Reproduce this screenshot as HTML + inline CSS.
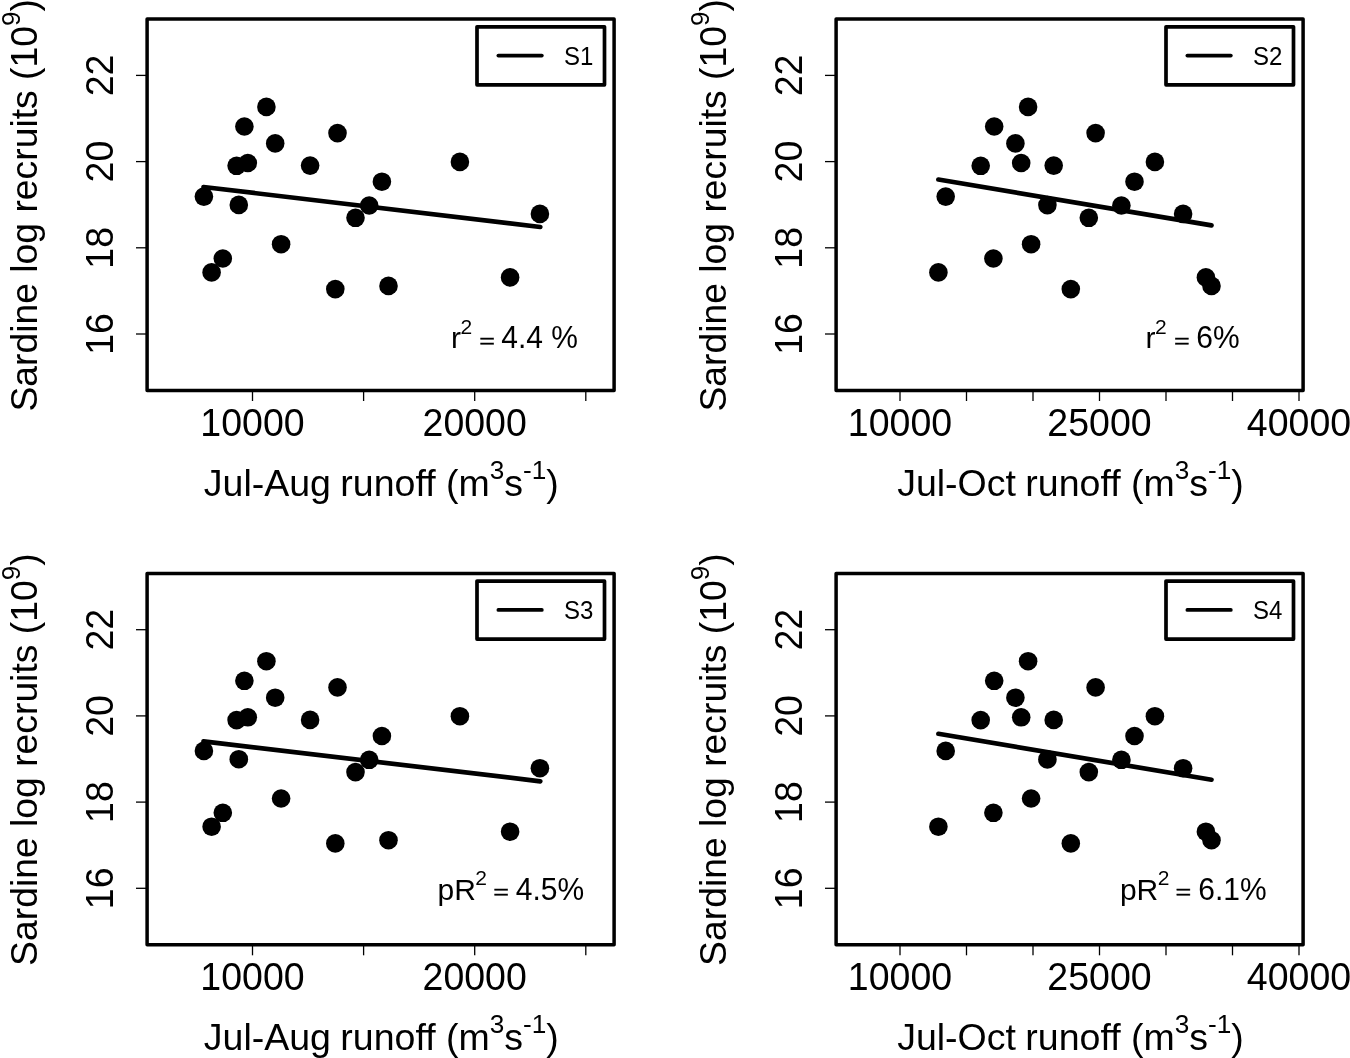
<!DOCTYPE html>
<html><head><meta charset="utf-8"><title>Sardine recruits vs runoff</title>
<style>html,body{margin:0;padding:0;background:#fff;overflow:hidden}svg{display:block}text{font-family:"Liberation Sans",Arial,sans-serif;fill:#000;stroke:none}text.e{stroke:#000;stroke-width:0.5px}</style>
</head><body>
<svg width="1350" height="1058" viewBox="0 0 1350 1058">
<rect width="1350" height="1058" fill="#fff"/>
<g transform="translate(0,0)">
<rect x="147.1" y="19.1" width="467" height="371.4" fill="none" stroke="#000" stroke-width="3.5" stroke-linejoin="round"/>
<line x1="136" y1="75.4" x2="146" y2="75.4" stroke="#000" stroke-width="1.3"/>
<text transform="translate(113.2,75.4) rotate(-90) scale(1,1.04)" text-anchor="middle" font-size="37.5">22</text>
<line x1="136" y1="161.6" x2="146" y2="161.6" stroke="#000" stroke-width="1.3"/>
<text transform="translate(113.2,161.6) rotate(-90) scale(1,1.04)" text-anchor="middle" font-size="37.5">20</text>
<line x1="136" y1="247.8" x2="146" y2="247.8" stroke="#000" stroke-width="1.3"/>
<text transform="translate(113.2,247.8) rotate(-90) scale(1,1.04)" text-anchor="middle" font-size="37.5">18</text>
<line x1="136" y1="334.0" x2="146" y2="334.0" stroke="#000" stroke-width="1.3"/>
<text transform="translate(113.2,334.0) rotate(-90) scale(1,1.04)" text-anchor="middle" font-size="37.5">16</text>
<line x1="252.5" y1="391" x2="252.5" y2="401" stroke="#000" stroke-width="1.3"/>
<line x1="363.6" y1="391" x2="363.6" y2="401" stroke="#000" stroke-width="1.3"/>
<line x1="474.7" y1="391" x2="474.7" y2="401" stroke="#000" stroke-width="1.3"/>
<line x1="585.8" y1="391" x2="585.8" y2="401" stroke="#000" stroke-width="1.3"/>
<text transform="translate(252.5,436.0) scale(1,1.04)" text-anchor="middle" font-size="37.5">10000</text>
<text transform="translate(474.7,436.0) scale(1,1.04)" text-anchor="middle" font-size="37.5">20000</text>
<text x="203.8" y="495.9" font-size="37.5">Jul-Aug<tspan dx="-1"> runoff (m</tspan><tspan font-size="26.2" dy="-16.8">3</tspan><tspan dy="16.8">s</tspan><tspan font-size="26.2" dy="-16.8">-1</tspan><tspan dy="16.8">)</tspan></text>
<text transform="translate(37.3,411.6) rotate(-90)" font-size="37.31">Sardine log recruits (10<tspan font-size="26.2" dy="-17.2">9</tspan><tspan dy="17.2">)</tspan></text>
<circle cx="266.4" cy="106.9" r="9.3"/>
<circle cx="244.4" cy="126.5" r="9.3"/>
<circle cx="275.2" cy="143.4" r="9.3"/>
<circle cx="337.5" cy="133.1" r="9.3"/>
<circle cx="236.6" cy="165.8" r="9.3"/>
<circle cx="247.8" cy="163.0" r="9.3"/>
<circle cx="310.1" cy="165.6" r="9.3"/>
<circle cx="381.9" cy="181.7" r="9.3"/>
<circle cx="203.9" cy="196.6" r="9.3"/>
<circle cx="238.8" cy="204.9" r="9.3"/>
<circle cx="369.2" cy="205.5" r="9.3"/>
<circle cx="355.5" cy="217.8" r="9.3"/>
<circle cx="281.1" cy="244.2" r="9.3"/>
<circle cx="222.8" cy="258.5" r="9.3"/>
<circle cx="211.6" cy="272.4" r="9.3"/>
<circle cx="335.3" cy="289.1" r="9.3"/>
<circle cx="388.5" cy="285.9" r="9.3"/>
<circle cx="459.9" cy="161.9" r="9.3"/>
<circle cx="539.9" cy="213.9" r="9.3"/>
<circle cx="510.1" cy="277.4" r="9.3"/>
<line x1="203.5" y1="187.0" x2="540.3" y2="227.0" stroke="#000" stroke-width="4.7" stroke-linecap="round"/>
<rect x="477" y="26.8" width="127.5" height="58" fill="#fff" stroke="#000" stroke-width="3.7" stroke-linejoin="round"/>
<line x1="498.4" y1="55.6" x2="541.8" y2="55.6" stroke="#000" stroke-width="3.8" stroke-linecap="round"/>
<text class="a" transform="translate(564,64.5) scale(1,1.04)" font-size="24.0">S1</text>
<text class="a" x="451.0" y="348.4" font-size="30.0">r<tspan font-size="21.0" dx="-0.5" dy="-14.6">2</tspan></text>
<text class="e" transform="translate(479.3,347.0) scale(0.9,0.6)" font-size="30.0">=</text>
<text class="a" transform="translate(501.3,348.4) scale(1,1.04)" font-size="30.0">4.4 %</text>
</g>
<g transform="translate(689.0,0)">
<rect x="147.1" y="19.1" width="467" height="371.4" fill="none" stroke="#000" stroke-width="3.5" stroke-linejoin="round"/>
<line x1="136" y1="75.4" x2="146" y2="75.4" stroke="#000" stroke-width="1.3"/>
<text transform="translate(113.2,75.4) rotate(-90) scale(1,1.04)" text-anchor="middle" font-size="37.5">22</text>
<line x1="136" y1="161.6" x2="146" y2="161.6" stroke="#000" stroke-width="1.3"/>
<text transform="translate(113.2,161.6) rotate(-90) scale(1,1.04)" text-anchor="middle" font-size="37.5">20</text>
<line x1="136" y1="247.8" x2="146" y2="247.8" stroke="#000" stroke-width="1.3"/>
<text transform="translate(113.2,247.8) rotate(-90) scale(1,1.04)" text-anchor="middle" font-size="37.5">18</text>
<line x1="136" y1="334.0" x2="146" y2="334.0" stroke="#000" stroke-width="1.3"/>
<text transform="translate(113.2,334.0) rotate(-90) scale(1,1.04)" text-anchor="middle" font-size="37.5">16</text>
<line x1="211.0" y1="391" x2="211.0" y2="401" stroke="#000" stroke-width="1.3"/>
<line x1="277.5" y1="391" x2="277.5" y2="401" stroke="#000" stroke-width="1.3"/>
<line x1="344.0" y1="391" x2="344.0" y2="401" stroke="#000" stroke-width="1.3"/>
<line x1="410.5" y1="391" x2="410.5" y2="401" stroke="#000" stroke-width="1.3"/>
<line x1="477.0" y1="391" x2="477.0" y2="401" stroke="#000" stroke-width="1.3"/>
<line x1="543.5" y1="391" x2="543.5" y2="401" stroke="#000" stroke-width="1.3"/>
<line x1="610.0" y1="391" x2="610.0" y2="401" stroke="#000" stroke-width="1.3"/>
<text transform="translate(211.0,436.0) scale(1,1.04)" text-anchor="middle" font-size="37.5">10000</text>
<text transform="translate(410.5,436.0) scale(1,1.04)" text-anchor="middle" font-size="37.5">25000</text>
<text transform="translate(610.0,436.0) scale(1,1.04)" text-anchor="middle" font-size="37.5">40000</text>
<text x="208.2" y="495.9" font-size="37.5">Jul-Oct<tspan dx="-1"> runoff (m</tspan><tspan font-size="26.2" dy="-16.8">3</tspan><tspan dy="16.8">s</tspan><tspan font-size="26.2" dy="-16.8">-1</tspan><tspan dy="16.8">)</tspan></text>
<text transform="translate(37.3,411.6) rotate(-90)" font-size="37.31">Sardine log recruits (10<tspan font-size="26.2" dy="-17.2">9</tspan><tspan dy="17.2">)</tspan></text>
<circle cx="339.1" cy="106.9" r="9.3"/>
<circle cx="305.2" cy="126.5" r="9.3"/>
<circle cx="326.4" cy="143.4" r="9.3"/>
<circle cx="406.6" cy="133.1" r="9.3"/>
<circle cx="291.7" cy="165.8" r="9.3"/>
<circle cx="332.2" cy="163.0" r="9.3"/>
<circle cx="364.7" cy="165.6" r="9.3"/>
<circle cx="256.7" cy="196.6" r="9.3"/>
<circle cx="358.4" cy="205.1" r="9.3"/>
<circle cx="399.8" cy="217.8" r="9.3"/>
<circle cx="342.1" cy="244.2" r="9.3"/>
<circle cx="304.4" cy="258.5" r="9.3"/>
<circle cx="249.4" cy="272.4" r="9.3"/>
<circle cx="381.8" cy="289.1" r="9.3"/>
<circle cx="432.4" cy="205.5" r="9.3"/>
<circle cx="465.9" cy="161.9" r="9.3"/>
<circle cx="445.5" cy="181.7" r="9.3"/>
<circle cx="494.1" cy="213.9" r="9.3"/>
<circle cx="516.9" cy="277.4" r="9.3"/>
<circle cx="522.5" cy="285.9" r="9.3"/>
<line x1="249.4" y1="179.5" x2="522.5" y2="225.4" stroke="#000" stroke-width="4.7" stroke-linecap="round"/>
<rect x="477" y="26.8" width="127.5" height="58" fill="#fff" stroke="#000" stroke-width="3.7" stroke-linejoin="round"/>
<line x1="498.4" y1="55.6" x2="541.8" y2="55.6" stroke="#000" stroke-width="3.8" stroke-linecap="round"/>
<text class="a" transform="translate(564,64.5) scale(1,1.04)" font-size="24.0">S2</text>
<text class="a" x="456.6" y="348.4" font-size="30.0">r<tspan font-size="21.0" dx="-0.5" dy="-14.6">2</tspan></text>
<text class="e" transform="translate(485.0,347.0) scale(0.9,0.6)" font-size="30.0">=</text>
<text class="a" transform="translate(507.3,348.4) scale(1,1.04)" font-size="30.0">6%</text>
</g>
<g transform="translate(0,554.3)">
<rect x="147.1" y="19.1" width="467" height="371.4" fill="none" stroke="#000" stroke-width="3.5" stroke-linejoin="round"/>
<line x1="136" y1="75.4" x2="146" y2="75.4" stroke="#000" stroke-width="1.3"/>
<text transform="translate(113.2,75.4) rotate(-90) scale(1,1.04)" text-anchor="middle" font-size="37.5">22</text>
<line x1="136" y1="161.6" x2="146" y2="161.6" stroke="#000" stroke-width="1.3"/>
<text transform="translate(113.2,161.6) rotate(-90) scale(1,1.04)" text-anchor="middle" font-size="37.5">20</text>
<line x1="136" y1="247.8" x2="146" y2="247.8" stroke="#000" stroke-width="1.3"/>
<text transform="translate(113.2,247.8) rotate(-90) scale(1,1.04)" text-anchor="middle" font-size="37.5">18</text>
<line x1="136" y1="334.0" x2="146" y2="334.0" stroke="#000" stroke-width="1.3"/>
<text transform="translate(113.2,334.0) rotate(-90) scale(1,1.04)" text-anchor="middle" font-size="37.5">16</text>
<line x1="252.5" y1="391" x2="252.5" y2="401" stroke="#000" stroke-width="1.3"/>
<line x1="363.6" y1="391" x2="363.6" y2="401" stroke="#000" stroke-width="1.3"/>
<line x1="474.7" y1="391" x2="474.7" y2="401" stroke="#000" stroke-width="1.3"/>
<line x1="585.8" y1="391" x2="585.8" y2="401" stroke="#000" stroke-width="1.3"/>
<text transform="translate(252.5,436.0) scale(1,1.04)" text-anchor="middle" font-size="37.5">10000</text>
<text transform="translate(474.7,436.0) scale(1,1.04)" text-anchor="middle" font-size="37.5">20000</text>
<text x="203.8" y="495.9" font-size="37.5">Jul-Aug<tspan dx="-1"> runoff (m</tspan><tspan font-size="26.2" dy="-16.8">3</tspan><tspan dy="16.8">s</tspan><tspan font-size="26.2" dy="-16.8">-1</tspan><tspan dy="16.8">)</tspan></text>
<text transform="translate(37.3,411.6) rotate(-90)" font-size="37.31">Sardine log recruits (10<tspan font-size="26.2" dy="-17.2">9</tspan><tspan dy="17.2">)</tspan></text>
<circle cx="266.4" cy="106.9" r="9.3"/>
<circle cx="244.4" cy="126.5" r="9.3"/>
<circle cx="275.2" cy="143.4" r="9.3"/>
<circle cx="337.5" cy="133.1" r="9.3"/>
<circle cx="236.6" cy="165.8" r="9.3"/>
<circle cx="247.8" cy="163.0" r="9.3"/>
<circle cx="310.1" cy="165.6" r="9.3"/>
<circle cx="381.9" cy="181.7" r="9.3"/>
<circle cx="203.9" cy="196.6" r="9.3"/>
<circle cx="238.8" cy="204.9" r="9.3"/>
<circle cx="369.2" cy="205.5" r="9.3"/>
<circle cx="355.5" cy="217.8" r="9.3"/>
<circle cx="281.1" cy="244.2" r="9.3"/>
<circle cx="222.8" cy="258.5" r="9.3"/>
<circle cx="211.6" cy="272.4" r="9.3"/>
<circle cx="335.3" cy="289.1" r="9.3"/>
<circle cx="388.5" cy="285.9" r="9.3"/>
<circle cx="459.9" cy="161.9" r="9.3"/>
<circle cx="539.9" cy="213.9" r="9.3"/>
<circle cx="510.1" cy="277.4" r="9.3"/>
<line x1="203.5" y1="187.0" x2="540.3" y2="227.0" stroke="#000" stroke-width="4.7" stroke-linecap="round"/>
<rect x="477" y="26.8" width="127.5" height="58" fill="#fff" stroke="#000" stroke-width="3.7" stroke-linejoin="round"/>
<line x1="498.4" y1="55.6" x2="541.8" y2="55.6" stroke="#000" stroke-width="3.8" stroke-linecap="round"/>
<text class="a" transform="translate(564,64.5) scale(1,1.04)" font-size="24.0">S3</text>
<text class="a" x="437.5" y="345.5" font-size="30.0">pR<tspan font-size="21.0" dx="-0.5" dy="-14.6">2</tspan></text>
<text class="e" transform="translate(493.3,344.1) scale(0.9,0.6)" font-size="30.0">=</text>
<text class="a" transform="translate(515.7,345.5) scale(1,1.04)" font-size="30.0">4.5%</text>
</g>
<g transform="translate(689.0,554.3)">
<rect x="147.1" y="19.1" width="467" height="371.4" fill="none" stroke="#000" stroke-width="3.5" stroke-linejoin="round"/>
<line x1="136" y1="75.4" x2="146" y2="75.4" stroke="#000" stroke-width="1.3"/>
<text transform="translate(113.2,75.4) rotate(-90) scale(1,1.04)" text-anchor="middle" font-size="37.5">22</text>
<line x1="136" y1="161.6" x2="146" y2="161.6" stroke="#000" stroke-width="1.3"/>
<text transform="translate(113.2,161.6) rotate(-90) scale(1,1.04)" text-anchor="middle" font-size="37.5">20</text>
<line x1="136" y1="247.8" x2="146" y2="247.8" stroke="#000" stroke-width="1.3"/>
<text transform="translate(113.2,247.8) rotate(-90) scale(1,1.04)" text-anchor="middle" font-size="37.5">18</text>
<line x1="136" y1="334.0" x2="146" y2="334.0" stroke="#000" stroke-width="1.3"/>
<text transform="translate(113.2,334.0) rotate(-90) scale(1,1.04)" text-anchor="middle" font-size="37.5">16</text>
<line x1="211.0" y1="391" x2="211.0" y2="401" stroke="#000" stroke-width="1.3"/>
<line x1="277.5" y1="391" x2="277.5" y2="401" stroke="#000" stroke-width="1.3"/>
<line x1="344.0" y1="391" x2="344.0" y2="401" stroke="#000" stroke-width="1.3"/>
<line x1="410.5" y1="391" x2="410.5" y2="401" stroke="#000" stroke-width="1.3"/>
<line x1="477.0" y1="391" x2="477.0" y2="401" stroke="#000" stroke-width="1.3"/>
<line x1="543.5" y1="391" x2="543.5" y2="401" stroke="#000" stroke-width="1.3"/>
<line x1="610.0" y1="391" x2="610.0" y2="401" stroke="#000" stroke-width="1.3"/>
<text transform="translate(211.0,436.0) scale(1,1.04)" text-anchor="middle" font-size="37.5">10000</text>
<text transform="translate(410.5,436.0) scale(1,1.04)" text-anchor="middle" font-size="37.5">25000</text>
<text transform="translate(610.0,436.0) scale(1,1.04)" text-anchor="middle" font-size="37.5">40000</text>
<text x="208.2" y="495.9" font-size="37.5">Jul-Oct<tspan dx="-1"> runoff (m</tspan><tspan font-size="26.2" dy="-16.8">3</tspan><tspan dy="16.8">s</tspan><tspan font-size="26.2" dy="-16.8">-1</tspan><tspan dy="16.8">)</tspan></text>
<text transform="translate(37.3,411.6) rotate(-90)" font-size="37.31">Sardine log recruits (10<tspan font-size="26.2" dy="-17.2">9</tspan><tspan dy="17.2">)</tspan></text>
<circle cx="339.1" cy="106.9" r="9.3"/>
<circle cx="305.2" cy="126.5" r="9.3"/>
<circle cx="326.4" cy="143.4" r="9.3"/>
<circle cx="406.6" cy="133.1" r="9.3"/>
<circle cx="291.7" cy="165.8" r="9.3"/>
<circle cx="332.2" cy="163.0" r="9.3"/>
<circle cx="364.7" cy="165.6" r="9.3"/>
<circle cx="256.7" cy="196.6" r="9.3"/>
<circle cx="358.4" cy="205.1" r="9.3"/>
<circle cx="399.8" cy="217.8" r="9.3"/>
<circle cx="342.1" cy="244.2" r="9.3"/>
<circle cx="304.4" cy="258.5" r="9.3"/>
<circle cx="249.4" cy="272.4" r="9.3"/>
<circle cx="381.8" cy="289.1" r="9.3"/>
<circle cx="432.4" cy="205.5" r="9.3"/>
<circle cx="465.9" cy="161.9" r="9.3"/>
<circle cx="445.5" cy="181.7" r="9.3"/>
<circle cx="494.1" cy="213.9" r="9.3"/>
<circle cx="516.9" cy="277.4" r="9.3"/>
<circle cx="522.5" cy="285.9" r="9.3"/>
<line x1="249.4" y1="179.5" x2="522.5" y2="225.4" stroke="#000" stroke-width="4.7" stroke-linecap="round"/>
<rect x="477" y="26.8" width="127.5" height="58" fill="#fff" stroke="#000" stroke-width="3.7" stroke-linejoin="round"/>
<line x1="498.4" y1="55.6" x2="541.8" y2="55.6" stroke="#000" stroke-width="3.8" stroke-linecap="round"/>
<text class="a" transform="translate(564,64.5) scale(1,1.04)" font-size="24.0">S4</text>
<text class="a" x="430.9" y="345.5" font-size="30.0">pR<tspan font-size="21.0" dx="-0.5" dy="-14.6">2</tspan></text>
<text class="e" transform="translate(486.4,344.1) scale(0.9,0.6)" font-size="30.0">=</text>
<text class="a" transform="translate(509.2,345.5) scale(1,1.04)" font-size="30.0">6.1%</text>
</g>
</svg></body></html>
